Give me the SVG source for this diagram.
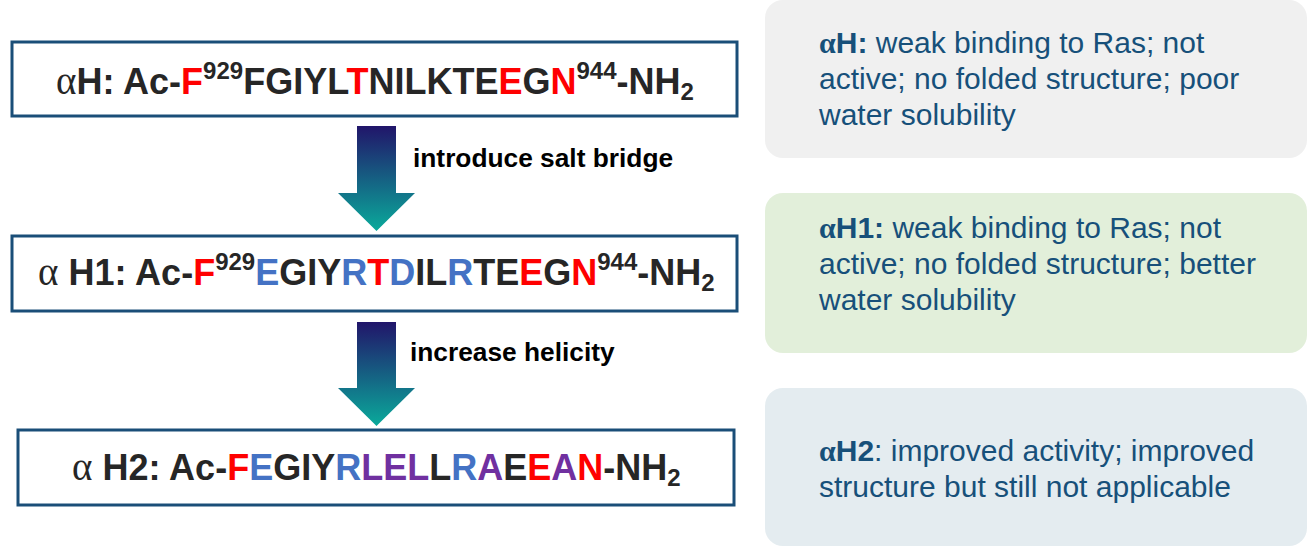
<svg xmlns="http://www.w3.org/2000/svg" width="1309" height="547" viewBox="0 0 1309 547">
<style>
.box{fill:#fff;stroke:#1A4E78;stroke-width:3}
.seq{font-family:"Liberation Sans",Arial,sans-serif;font-weight:bold;font-size:36px;fill:#262626}
.al{font-family:"Liberation Serif","Times New Roman",serif;font-weight:normal;font-size:39px}
.r{fill:#FF0000}.b{fill:#4472C4}.p{fill:#7030A0}
.sup{font-size:24px}
.lbl{font-family:"Liberation Sans",Arial,sans-serif;font-weight:bold;font-size:26.3px;fill:#000}
.pt{font-family:"Liberation Sans",Arial,sans-serif;font-size:30px;fill:#17507A}
.alb{font-family:"Liberation Serif","Times New Roman",serif;font-weight:bold}
.bd{font-weight:bold}
</style>
<defs>
<linearGradient id="ag" x1="0" y1="0" x2="0" y2="1">
<stop offset="0" stop-color="#21156A"/>
<stop offset="1" stop-color="#0AAA9B"/>
</linearGradient>
</defs>
<g id="panel-aH">
<rect x="765" y="0" width="542" height="158" rx="18" fill="#F0F0F0"/>
<text class="pt" x="819" y="53"><tspan class="alb">α</tspan><tspan class="bd">H:</tspan> weak binding to Ras; not</text>
<text class="pt" x="819" y="89">active; no folded structure; poor</text>
<text class="pt" x="819" y="125">water solubility</text>
</g>
<g id="panel-aH1">
<rect x="765" y="193" width="542" height="160" rx="18" fill="#E2EFDA"/>
<text class="pt" x="819" y="238"><tspan class="alb">α</tspan><tspan class="bd">H1:</tspan> weak binding to Ras; not</text>
<text class="pt" x="819" y="274">active; no folded structure; better</text>
<text class="pt" x="819" y="310">water solubility</text>
</g>
<g id="panel-aH2">
<rect x="765" y="388" width="542" height="158" rx="18" fill="#E4ECF0"/>
<text class="pt" x="819" y="461"><tspan class="alb">α</tspan><tspan class="bd">H2</tspan>: improved activity; improved</text>
<text class="pt" x="819" y="497">structure but still not applicable</text>
</g>
<g id="node-aH">
<rect class="box" x="12" y="42" width="725" height="74"/>
<text class="seq" x="56" y="94"><tspan class="al">α</tspan>H: Ac-<tspan class="r">F</tspan><tspan class="sup" dy="-15">929</tspan><tspan dy="15">FGIYL</tspan><tspan class="r">T</tspan>NILKTE<tspan class="r">E</tspan>G<tspan class="r">N</tspan><tspan class="sup" dy="-15">944</tspan><tspan dy="15">-NH</tspan><tspan class="sup" dy="6">2</tspan></text>
</g>
<g id="node-aH1">
<rect class="box" x="12" y="236" width="725" height="75"/>
<text class="seq" x="38" y="285"><tspan class="al">α</tspan> H1: Ac-<tspan class="r">F</tspan><tspan class="sup" dy="-15">929</tspan><tspan class="b" dy="15">E</tspan>GIY<tspan class="b">R</tspan><tspan class="r">T</tspan><tspan class="b">D</tspan>IL<tspan class="b">R</tspan>TE<tspan class="r">E</tspan>G<tspan class="r">N</tspan><tspan class="sup" dy="-15">944</tspan><tspan dy="15">-NH</tspan><tspan class="sup" dy="6">2</tspan></text>
</g>
<g id="node-aH2">
<rect class="box" x="18" y="430" width="716" height="75"/>
<text class="seq" x="72" y="480"><tspan class="al">α</tspan> H2: Ac-<tspan class="r">F</tspan><tspan class="b">E</tspan>GIY<tspan class="b">R</tspan><tspan class="p">LEL</tspan>L<tspan class="b">R</tspan><tspan class="p">A</tspan>E<tspan class="r">E</tspan><tspan class="p">A</tspan><tspan class="r">N</tspan>-NH<tspan class="sup" dy="6">2</tspan></text>
</g>
<g id="connectors">
<polygon points="357,126 396,126 396,193 415,193 376.5,231 338,193 357,193" fill="url(#ag)"/>
<text class="lbl" x="413" y="167">introduce salt bridge</text>
<polygon points="357,322 396,322 396,388 415,388 376.5,426 338,388 357,388" fill="url(#ag)"/>
<text class="lbl" x="410" y="361">increase helicity</text>
</g>
</svg>
